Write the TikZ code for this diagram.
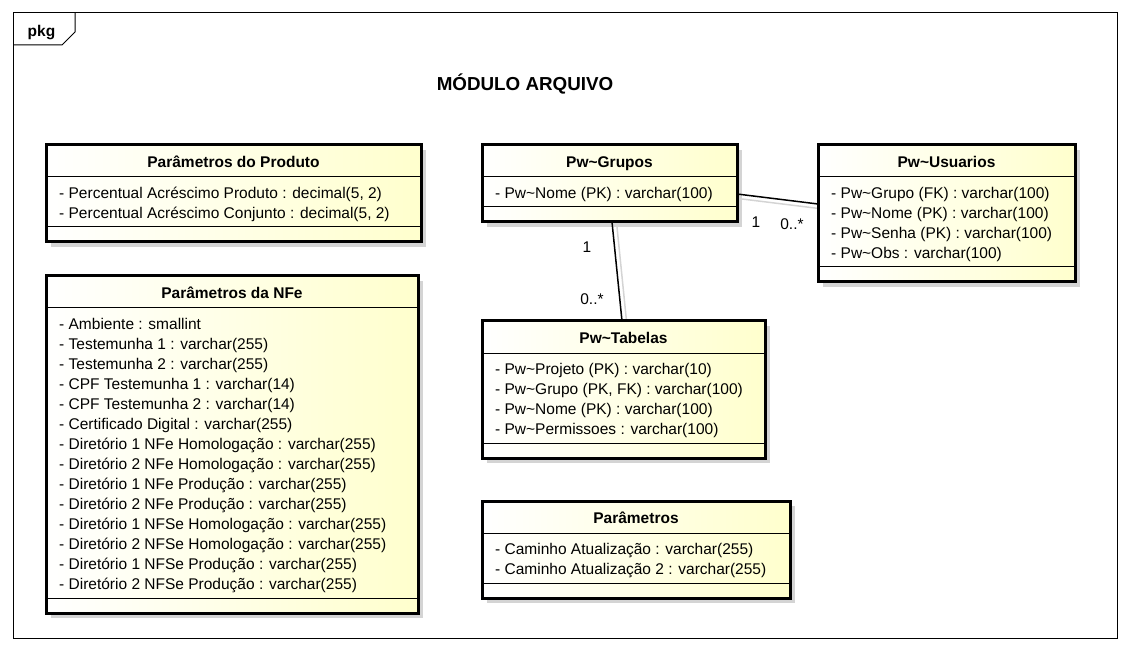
\documentclass[tikz,border=0pt]{standalone}
\usepackage{fontspec}
\setmainfont{Liberation Sans}
\usetikzlibrary{calc}
\usetikzlibrary{shadows}
\usetikzlibrary{backgrounds}
\definecolor{umlfill}{RGB}{255,255,205}
\definecolor{umlshadow}{RGB}{212,212,212}
\newcommand{\attrfont}{\fontsize{15.5}{18}\selectfont}

\begin{document}
\begin{tikzpicture}[x=1pt, y=-1pt,
 classbox/.style={draw=black, line width=3pt, left color=white, right color=umlfill, anchor=north west, inner sep=0, outer sep=0,
   drop shadow={shadow xshift=5pt, shadow yshift=-5pt, fill=umlshadow, opacity=1}},
 classtitle/.style={inner sep=0, text height=11pt, text depth=0pt, font=\bfseries\attrfont},
 attr/.style={anchor=west, inner sep=0, text height=11pt, text depth=0pt, font=\attrfont},
 sepline/.style={line width=1pt},
 assoc/.style={line width=1.5pt},
 assocshadow/.style={line width=1.5pt, umlshadow},
 mult/.style={inner sep=0, text height=11pt, text depth=0pt, font=\attrfont}]
\useasboundingbox (0,0) rectangle (1130,652);
% package frame
\draw[line width=1pt] (13,13) rectangle (1117,638);
\draw[line width=1pt] (13,45) -- (62,45) -- (75,32) -- (75,13);
\node[anchor=base, inner sep=0, font=\bfseries\attrfont] (pkg) at (41.5,36.5) {pkg};
\node[anchor=base, inner sep=0, font=\bfseries\fontsize{18.8}{22}\selectfont] (titulo) at (525,91) {MÓDULO ARQUIVO};

% Parametros do Produto
\node[classbox, minimum width=375pt, minimum height=97pt] (produto) at (46,145) {};
\node[classtitle] (produtoT) at ([yshift=-17pt]produto.north) {Parâmetros do Produto};
\draw[sepline] ([yshift=-32pt]produto.north west) -- ([yshift=-32pt]produto.north east);
\foreach \a [count=\i] in {{- Percentual Acréscimo Produto : decimal(5, 2)},{- Percentual Acréscimo Conjunto : decimal(5, 2)}}
 \node[attr] (produto\i) at ([xshift=13pt, yshift=-28pt-20pt*\i]produto.north west) {\a};
\draw[sepline] ([yshift=15pt]produto.south west) -- ([yshift=15pt]produto.south east);

% Parametros da NFe
\node[classbox, minimum width=372pt, minimum height=337pt] (nfe) at (46,276) {};
\node[classtitle] (nfeT) at ([yshift=-17pt]nfe.north) {Parâmetros da NFe};
\draw[sepline] ([yshift=-32pt]nfe.north west) -- ([yshift=-32pt]nfe.north east);
\foreach \a [count=\i] in {- Ambiente : smallint, - Testemunha 1 : varchar(255), - Testemunha 2 : varchar(255),
  - CPF Testemunha 1 : varchar(14), - CPF Testemunha 2 : varchar(14), - Certificado Digital : varchar(255),
  - Diretório 1 NFe Homologação : varchar(255), - Diretório 2 NFe Homologação : varchar(255),
  - Diretório 1 NFe Produção : varchar(255), - Diretório 2 NFe Produção : varchar(255),
  - Diretório 1 NFSe Homologação : varchar(255), - Diretório 2 NFSe Homologação : varchar(255),
  - Diretório 1 NFSe Produção : varchar(255), - Diretório 2 NFSe Produção : varchar(255)}
 \node[attr] (nfe\i) at ([xshift=13pt, yshift=-28pt-20pt*\i]nfe.north west) {\a};
\draw[sepline] ([yshift=15pt]nfe.south west) -- ([yshift=15pt]nfe.south east);

% Pw~Grupos
\node[classbox, minimum width=255pt, minimum height=77pt] (grupos) at (482,145) {};
\node[classtitle] (gruposT) at ([yshift=-17pt]grupos.north) {Pw\textasciitilde Grupos};
\draw[sepline] ([yshift=-32pt]grupos.north west) -- ([yshift=-32pt]grupos.north east);
\node[attr] (grupos1) at ([xshift=13pt, yshift=-48pt]grupos.north west) {- Pw\textasciitilde Nome (PK) : varchar(100)};
\draw[sepline] ([yshift=15pt]grupos.south west) -- ([yshift=15pt]grupos.south east);

% Pw~Usuarios
\node[classbox, minimum width=257pt, minimum height=137pt] (usuarios) at (818,145) {};
\node[classtitle] (usuariosT) at ([yshift=-17pt]usuarios.north) {Pw\textasciitilde Usuarios};
\draw[sepline] ([yshift=-32pt]usuarios.north west) -- ([yshift=-32pt]usuarios.north east);
\foreach \a [count=\i] in {{- Pw\textasciitilde Grupo (FK) : varchar(100)},{- Pw\textasciitilde Nome (PK) : varchar(100)},
  {- Pw\textasciitilde Senha (PK) : varchar(100)},{- Pw\textasciitilde Obs : varchar(100)}}
 \node[attr] (usuarios\i) at ([xshift=13pt, yshift=-28pt-20pt*\i]usuarios.north west) {\a};
\draw[sepline] ([yshift=15pt]usuarios.south west) -- ([yshift=15pt]usuarios.south east);

% Pw~Tabelas
\node[classbox, minimum width=283pt, minimum height=137pt] (tabelas) at (482,321) {};
\node[classtitle] (tabelasT) at ([yshift=-17pt]tabelas.north) {Pw\textasciitilde Tabelas};
\draw[sepline] ([yshift=-32pt]tabelas.north west) -- ([yshift=-32pt]tabelas.north east);
\foreach \a [count=\i] in {{- Pw\textasciitilde Projeto (PK) : varchar(10)},{- Pw\textasciitilde Grupo (PK, FK) : varchar(100)},
  {- Pw\textasciitilde Nome (PK) : varchar(100)},{- Pw\textasciitilde Permissoes : varchar(100)}}
 \node[attr] (tabelas\i) at ([xshift=13pt, yshift=-28pt-20pt*\i]tabelas.north west) {\a};
\draw[sepline] ([yshift=15pt]tabelas.south west) -- ([yshift=15pt]tabelas.south east);

% Parametros
\node[classbox, minimum width=308pt, minimum height=97pt] (param) at (482,501) {};
\node[classtitle] (paramT) at ([yshift=-17pt]param.north) {Parâmetros};
\draw[sepline] ([yshift=-32pt]param.north west) -- ([yshift=-32pt]param.north east);
\foreach \a [count=\i] in {- Caminho Atualização : varchar(255), - Caminho Atualização 2 : varchar(255)}
 \node[attr] (param\i) at ([xshift=13pt, yshift=-28pt-20pt*\i]param.north west) {\a};
\draw[sepline] ([yshift=15pt]param.south west) -- ([yshift=15pt]param.south east);

% associations
\begin{scope}[on background layer]
 \draw[assocshadow] ([xshift=5pt, yshift=-15.5pt]grupos.east) -- ([xshift=5pt, yshift=4.5pt]usuarios.west);
 \draw[assocshadow] ([xshift=7.5pt, yshift=-5pt]grupos.south) -- ([xshift=3.5pt, yshift=-5pt]tabelas.north);
\end{scope}
\draw[assoc] ([yshift=-10.5pt]grupos.east) -- ([yshift=9.5pt]usuarios.west);
\draw[assoc] ([xshift=2.5pt]grupos.south) -- ([xshift=-1.5pt]tabelas.north);
\node[mult] (mGU1) at (756,222) {1};
\node[mult] (mGU2) at (792,224) {0..*};
\node[mult] (mGT1) at (587,247) {1};
\node[mult] (mGT2) at (592,299) {0..*};
\end{tikzpicture}
\end{document}
